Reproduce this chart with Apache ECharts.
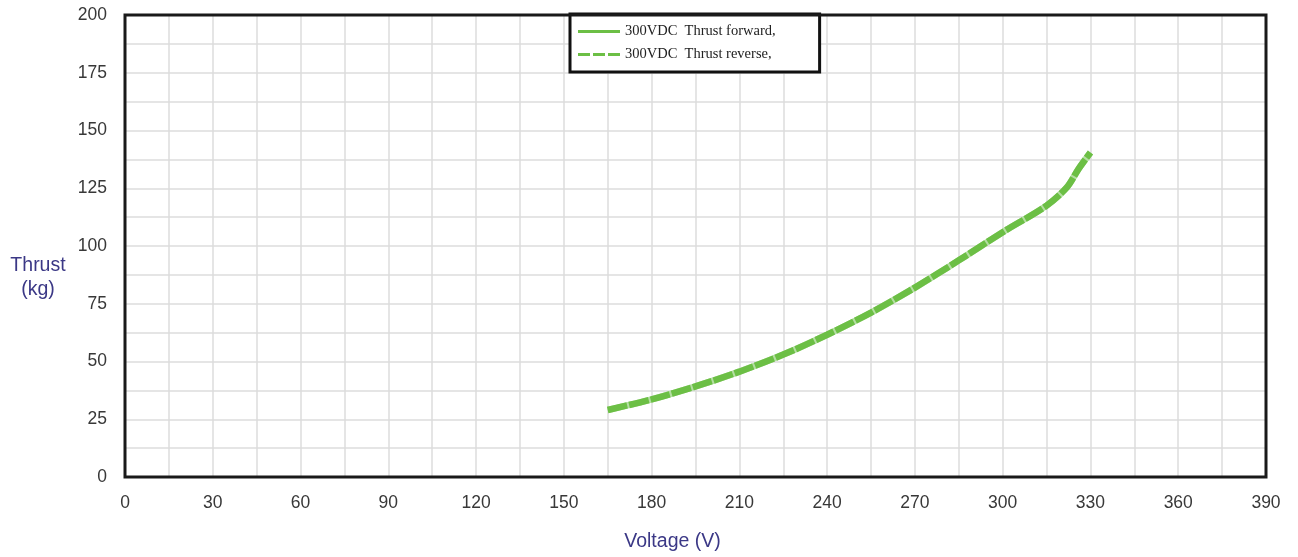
<!DOCTYPE html>
<html>
<head>
<meta charset="utf-8">
<script src="https://cdn.jsdelivr.net/npm/echarts@6/dist/echarts.min.js"></script>
<style>html,body{margin:0;padding:0;background:#fff;overflow:hidden;width:100%;height:100%;}#c{width:100vw;height:100vh;}</style>
</head>
<body>
<div id="c"></div>
<script>
const voltage = [165, 180, 195, 210, 225, 240, 255, 270, 285, 300, 315, 322, 326, 330];
const thrustForward = [29, 33.6, 39.2, 45.6, 53, 61.6, 71.2, 82, 93.8, 106, 117.5, 125.5, 133.5, 140.5];
const thrustReverse = [29, 33.6, 39.2, 45.6, 53, 61.6, 71.2, 82, 93.8, 106, 117.5, 125.5, 133.5, 140.5];
const seriesNames = ['300VDC  Thrust forward,', '300VDC  Thrust reverse,'];
const xTicks = [0, 30, 60, 90, 120, 150, 180, 210, 240, 270, 300, 330, 360, 390];
const yTicks = [0, 25, 50, 75, 100, 125, 150, 175, 200];

const green = '#6cbf45';
const chart = echarts.init(document.getElementById('c'));
chart.setOption({
  animation: false,
  grid: { left: 125, right: 32, top: '2.7%', bottom: '13.1%', show: true, borderColor: '#1a1a1a', borderWidth: 3, z: 5 },
  legend: {
    orient: 'vertical', left: 570, top: '2.5%',
    backgroundColor: '#fff', borderColor: '#111', borderWidth: 3,
    padding: [10, 44, 10, 8], itemGap: 8, itemWidth: 42, itemHeight: 3,
    textStyle: { fontFamily: 'Liberation Serif', fontSize: 14.5, color: '#222' },
    data: [
      { name: seriesNames[0], icon: 'path://M0,0H42V3H0Z', itemStyle: { color: green } },
      { name: seriesNames[1], icon: 'path://M0,0H12V3H0Z M15,0H27V3H15Z M30,0H42V3H30Z', itemStyle: { color: green } }
    ]
  },
  xAxis: {
    type: 'value', min: 0, max: 390, interval: 15,
    name: 'Voltage (V)', nameLocation: 'middle', nameGap: 55,
    nameTextStyle: { fontFamily: 'Liberation Sans', fontSize: 19.5, color: '#3b3886', align: 'center', padding: [0, 46, 0, 0] },
    axisLine: { show: false }, axisTick: { show: false },
    axisLabel: { margin: 17, fontFamily: 'Liberation Sans', fontSize: 17.5, color: '#383838',
      formatter: v => xTicks.includes(v) ? String(v) : '' },
    splitLine: { show: true, lineStyle: { color: '#dcdcdc', width: 1.5 } }
  },
  yAxis: {
    type: 'value', min: 0, max: 200, interval: 12.5,
    name: 'Thrust\n(kg)', nameLocation: 'middle', nameGap: 87, nameRotate: 0,
    nameTextStyle: { fontFamily: 'Liberation Sans', fontSize: 19.5, color: '#3b3886', align: 'center', verticalAlign: 'top', lineHeight: 24, padding: [8, 0, 0, 0] },
    axisLine: { show: false }, axisTick: { show: false },
    axisLabel: { margin: 18, fontFamily: 'Liberation Sans', fontSize: 17.5, color: '#383838',
      formatter: v => yTicks.includes(v) ? String(v) : '' },
    splitLine: { show: true, lineStyle: { color: '#dcdcdc', width: 1.5 } }
  },
  series: [
    { name: seriesNames[0], type: 'line', smooth: 0.3, symbol: 'none',
      data: voltage.map((v, i) => [v, thrustForward[i]]),
      lineStyle: { color: '#b4dea2', width: 6.5 }, itemStyle: { color: green }, z: 3 },
    { name: seriesNames[1], type: 'line', smooth: 0.3, symbol: 'none',
      data: voltage.map((v, i) => [v, thrustReverse[i]]),
      lineStyle: { color: green, width: 6.5, type: [20, 2] }, itemStyle: { color: green }, z: 4 }
  ]
});
window.addEventListener('resize', () => chart.resize());
</script>
</body>
</html>
